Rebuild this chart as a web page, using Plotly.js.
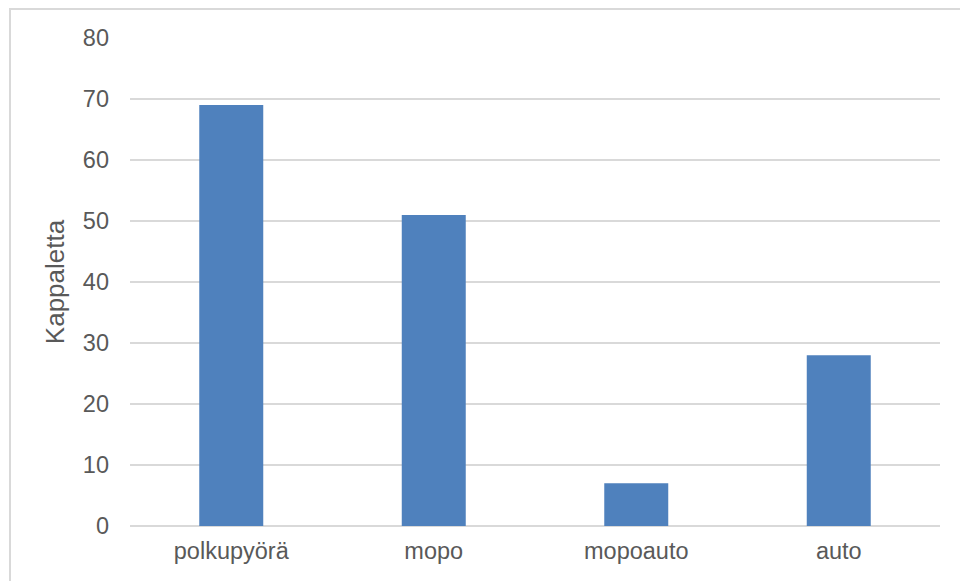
<!DOCTYPE html>
<html>
<head>
<meta charset="utf-8">
<script src="https://cdn.plot.ly/plotly-3.0.1.min.js"></script>
<style>
html,body{margin:0;padding:0;background:#fff;}
#wrap{position:relative;width:960px;height:581px;overflow:hidden;}
#chart{position:absolute;left:0;top:0;width:960px;height:581px;}
#frame{position:absolute;left:9px;top:8px;width:1000px;height:700px;border-left:2px solid #d9d9d9;border-top:2px solid #d9d9d9;pointer-events:none;}
</style>
</head>
<body>
<div id="wrap"><div id="chart"></div><div id="frame"></div></div>
<script>
var categories = ["polkupyörä", "mopo", "mopoauto", "auto"];
var values = [69, 51, 7, 28];
var yTicks = [0, 10, 20, 30, 40, 50, 60, 70, 80];
var yTitle = "Kappaletta";

var font = {family: "Liberation Sans, Arial, sans-serif", color: "#595959", size: 23.5};

Plotly.newPlot("chart", [{
  type: "bar",
  x: categories,
  y: values,
  marker: {color: "#4f81bd"},
  hoverinfo: "x+y"
}], {
  width: 960, height: 581,
  margin: {l: 130, r: 20, t: 38, b: 55, pad: 0},
  paper_bgcolor: "#ffffff",
  plot_bgcolor: "#ffffff",
  bargap: 0.684,
  showlegend: false,
  font: font,
  xaxis: {
    type: "category",
    showgrid: false,
    showline: false,
    zeroline: false,
    ticks: "",
    tickfont: font,
    ticklabelstandoff: 8
  },
  yaxis: {
    range: [0, 80],
    tickvals: yTicks,
    ticktext: yTicks.map(String),
    showgrid: true,
    gridcolor: "#d9d9d9",
    gridwidth: 1.5,
    zeroline: true,
    zerolinecolor: "#d9d9d9",
    zerolinewidth: 1.5,
    showline: false,
    ticks: "",
    tickfont: font,
    ticklabelstandoff: 20,
    title: {text: yTitle, font: {family: font.family, color: "#595959", size: 26}, standoff: 10}
  }
}, {displayModeBar: false, staticPlot: false});
</script>
</body>
</html>
